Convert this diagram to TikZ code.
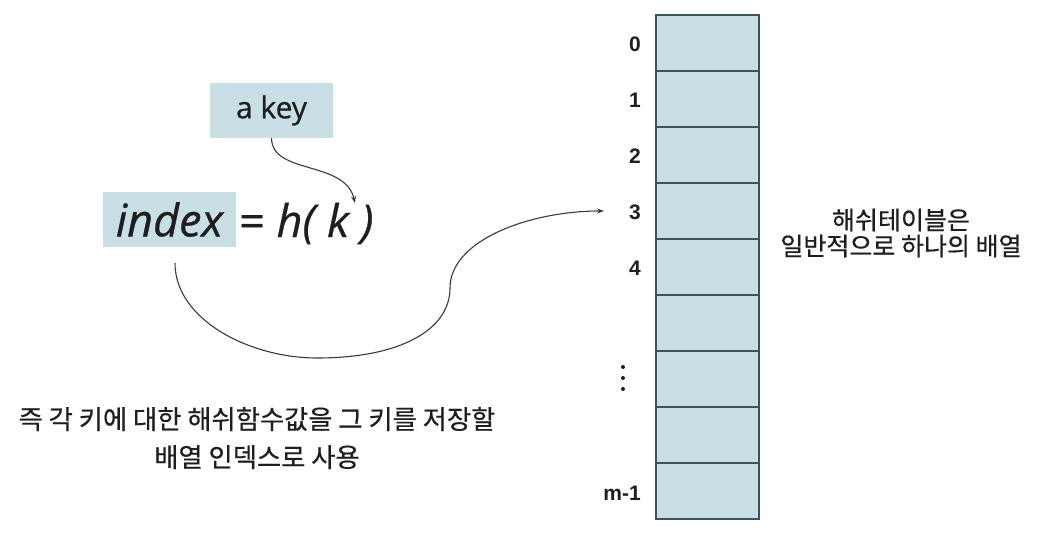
\documentclass[tikz,border=0pt]{standalone}
\usepackage{fontspec}
\setmainfont{Open Sans}[FakeBold=0.6]
\newfontfamily\krfont{Noto Sans CJK KR}[FakeBold=0.5]
\newfontfamily\labfont{Liberation Sans}
\usetikzlibrary{arrows.meta}
\definecolor{cellfill}{HTML}{C9DFE6}
\definecolor{cellline}{HTML}{3E5257}
\definecolor{ink}{HTML}{1E1E1E}
\definecolor{wire}{HTML}{3A3A3A}
\tikzset{
  keybox/.style={fill=cellfill, inner sep=0pt, text=ink},
  cell/.style={rectangle, fill=cellfill, draw=cellline, line width=1.3pt, minimum width=103pt, minimum height=56pt, inner sep=0pt},
  idxlabel/.style={anchor=east, inner sep=0pt, text=ink, font=\labfont\bfseries\fontsize{21}{24}\selectfont},
  krtext/.style={align=center, inner sep=0pt, text=ink},
  link/.style={draw=wire, line width=1.1pt, -{Stealth[length=7pt,width=5pt]}},
}
\begin{document}
\begin{tikzpicture}[x=1pt,y=-1pt]
\useasboundingbox (0,0) rectangle (1046,548);
% key box and formula
\node[keybox, minimum width=123pt, minimum height=55pt, font=\fontsize{30}{36}\selectfont] (akey) at (271.5,110.5) {a key};
\node[keybox, minimum width=133pt, minimum height=55pt, font=\itshape\fontsize{45}{54}\selectfont] (index) at (169.5,219.5) {index};
\node[anchor=base west, inner sep=0pt, text=ink, font=\fontsize{45}{54}\selectfont] (hk) at (239,237) {= \textit{h( k )}};
\coordinate (ktop) at (355,203);
\coordinate (idxbot) at (175,263);
\coordinate (slot) at (604,211);
% table
\foreach \i in {0,...,8}{
  \node[cell] (c\i) at (707.5,{43+56*\i}) {};
}
\node[idxlabel] (l0) at (641,44) {0};
\node[idxlabel] (l1) at (641,100) {1};
\node[idxlabel] (l2) at (641,156) {2};
\node[idxlabel] (l3) at (641,212) {3};
\node[idxlabel] (l4) at (641,268) {4};
\node[idxlabel] (lm) at (641,493) {m-1};
\foreach \y in {367,378,389}{
  \fill[ink] (623,\y) circle (2pt);
}
% connectors
\draw[link] (akey.south) .. controls (272,175) and (345,160) .. (ktop);
\draw[link] (idxbot) .. controls (175,320) and (250,358) .. (317,358)
   .. controls (400,358) and (450,330) .. (450,288)
   .. controls (450,240) and (530,211) .. (slot);
% korean texts
\node[krtext, font=\krfont\fontsize{25}{26}\selectfont] (note) at (901,233) {해쉬테이블은\\일반적으로 하나의 배열};
\node[krtext, font=\krfont\fontsize{26.3}{38}\selectfont] (desc) at (257,438) {즉 각 키에 대한 해쉬함수값을 그 키를 저장할\\배열 인덱스로 사용};
\end{tikzpicture}
\end{document}
